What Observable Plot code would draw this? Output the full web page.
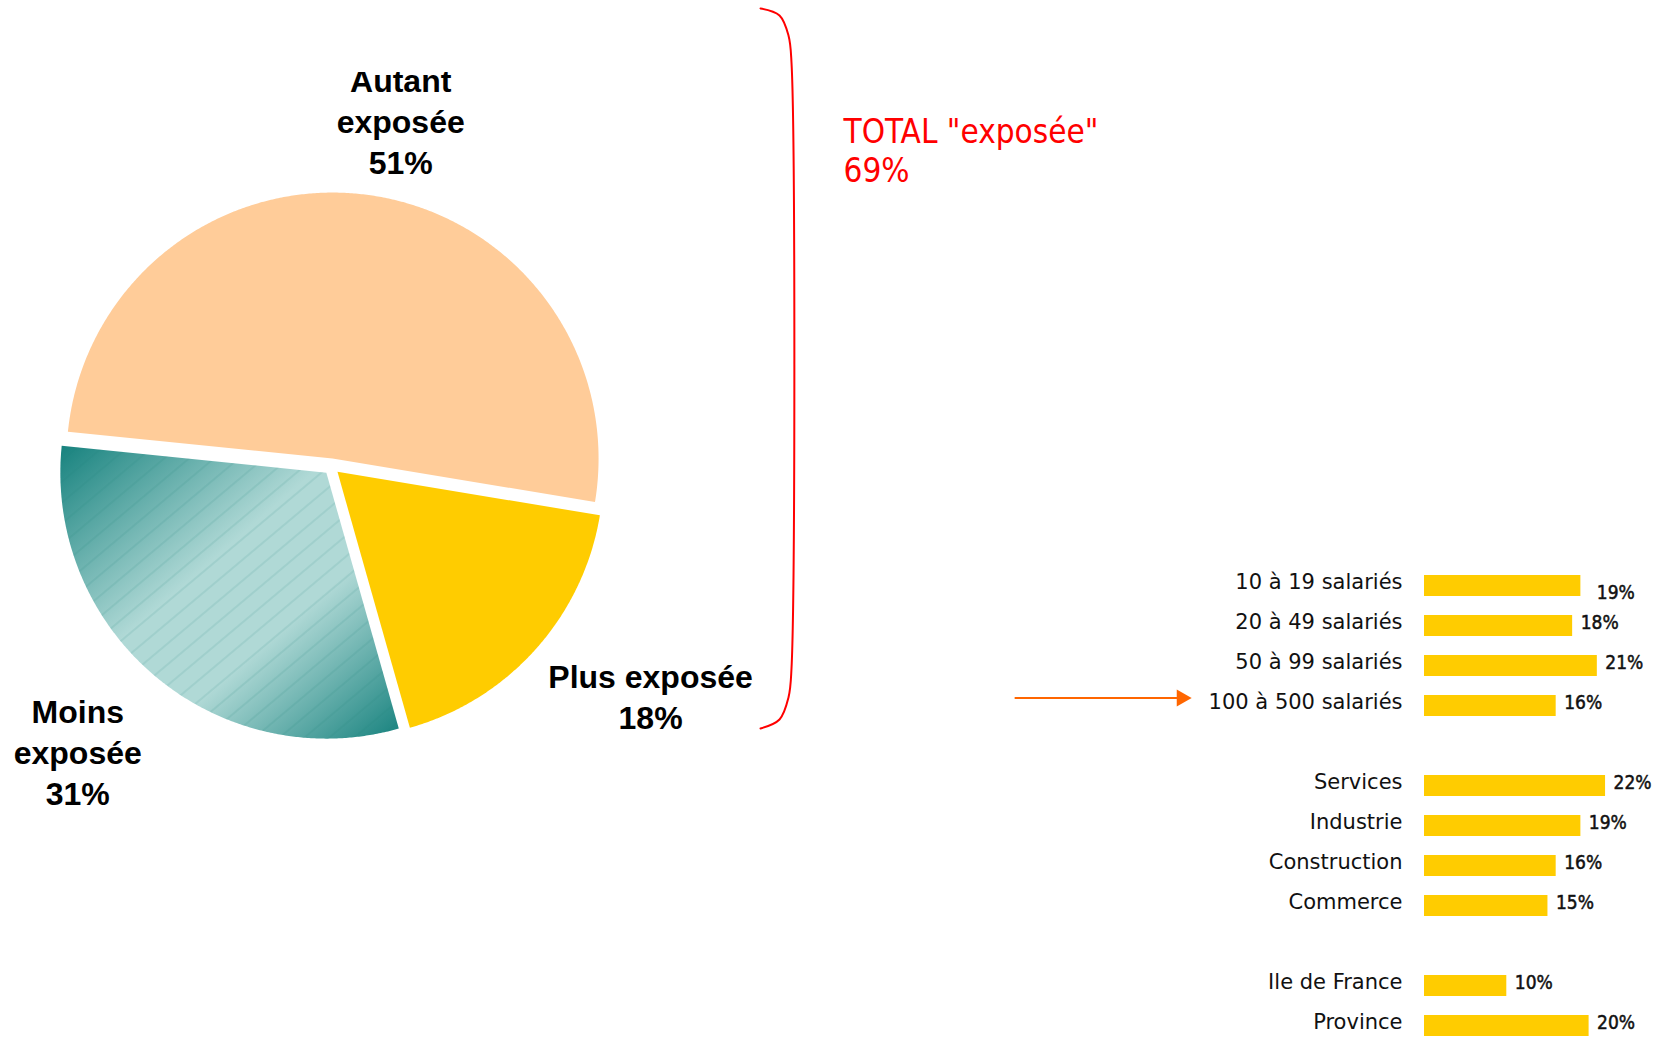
<!DOCTYPE html>
<html>
<head>
<meta charset="utf-8">
<script src="https://cdn.jsdelivr.net/npm/d3@7"></script>
<script src="https://cdn.jsdelivr.net/npm/@observablehq/plot@0.6"></script>
<style>
html,body{margin:0;padding:0;background:#fff;}
#root{position:relative;width:1671px;height:1038px;overflow:hidden;background:#fff;}
#pie{position:absolute;left:0;top:0;}
#bars{position:absolute;left:1000px;top:0;}
</style>
</head>
<body>
<div id="root"><div id="pie"></div><div id="bars"></div></div>
<script>
// ---------- data ----------
const pieLabels = ["Autant exposée", "Plus exposée", "Moins exposée"];
const pieValues = [51, 18, 31];
const pieColors = ["#FFCC99", "#FFCC00", "url(#moinsGrad)"];

const totalLabel = 'TOTAL "exposée"';
const totalValue = 69;

const sizeCategories = ["10 à 19 salariés", "20 à 49 salariés", "50 à 99 salariés", "100 à 500 salariés"];
const sizeValues = [19, 18, 21, 16];
const sectorCategories = ["Services", "Industrie", "Construction", "Commerce"];
const sectorValues = [22, 19, 16, 15];
const regionCategories = ["Ile de France", "Province"];
const regionValues = [10, 20];

// ---------- layout constants (not data) ----------
const deg = Math.PI / 180;
const startAngle = -84.2 * deg;
const explode = 8 / 266;
const pieLabelLayout = {
  "Autant exposée": {nudge: 3.7, k: 1.328, wrap: true},
  "Plus exposée": {nudge: -6.1, k: 1.477, wrap: false},
  "Moins exposée": {nudge: 1.7, k: 1.434, wrap: true}
};
// bracket annotation, in pie-radius units
const bracket = [
  [1.6128, 1.7218], [1.6842, 1.6955], [1.7180, 1.6203], [1.7293, 1.5188],
  [1.7293, -0.7594], [1.7180, -0.8684], [1.6842, -0.9511], [1.6128, -0.9850]
];
const totalPos = [1.925, 1.19];
// arrow annotation, in bar x units
const arrowRow = "100 à 500 salariés";
const arrowFrom = -49.8, arrowTo = -29.0, arrowHead = -29.5;

// ---------- pie geometry ----------
const arcs = d3.pie().sort(null).startAngle(startAngle).endAngle(startAngle + 2 * Math.PI)(pieValues);
const pieRows = [];
const pieText = [];
arcs.forEach((a, i) => {
  const name = pieLabels[i];
  const mid = (a.startAngle + a.endAngle) / 2;
  const ox = explode * Math.sin(mid), oy = explode * Math.cos(mid);
  pieRows.push({name, x: ox, y: oy});
  const n = Math.ceil((a.endAngle - a.startAngle) / (0.4 * deg));
  for (let k = 0; k <= n; k++) {
    const t = a.startAngle + (a.endAngle - a.startAngle) * k / n;
    pieRows.push({name, x: ox + Math.sin(t), y: oy + Math.cos(t)});
  }
  const L = pieLabelLayout[name];
  const la = mid + L.nudge * deg;
  pieText.push({
    name,
    x: L.k * Math.sin(la),
    y: L.k * Math.cos(la),
    text: (L.wrap ? name.replace(" ", "\n") : name) + "\n" + pieValues[i] + "%"
  });
});
const moinsRows = pieRows.filter(d => d.name === "Moins exposée");

const pieFont = "'Liberation Sans', Arial, sans-serif";
const pie = Plot.plot({
  width: 1000, height: 1038,
  marginTop: 72, marginLeft: 0, marginRight: 0, marginBottom: 0,
  x: {domain: [-1, 1], range: [65, 597], axis: null},
  y: {domain: [-1, 1], range: [732, 200], axis: null},
  color: {domain: pieLabels, range: pieColors},
  style: {background: "transparent", overflow: "visible"},
  marks: [
    Plot.line(pieRows, {x: "x", y: "y", z: "name", fill: "name", stroke: "none"}),
    Plot.line(moinsRows, {x: "x", y: "y", fill: "url(#moinsHatch)", stroke: "none"}),
    Plot.text(pieText, {x: "x", y: "y", text: "text", fontFamily: pieFont, fontWeight: "bold",
      fontSize: 32, lineHeight: 1.28, fill: "#000", clip: true}),
    Plot.line(bracket, {x: d => d[0], y: d => d[1], stroke: "#FF0000", strokeWidth: 2, curve: "catmull-rom"}),
    Plot.text([totalLabel + "\n" + totalValue + "%"], {x: totalPos[0], y: totalPos[1], text: d => d,
      textAnchor: "start", fontFamily: "'DejaVu Sans Condensed', 'DejaVu Sans', sans-serif",
      fontSize: 33, lineHeight: 1.182, fill: "#FF0000"})
  ]
});
const defs = d3.select(pie).insert("defs", ":first-child");
const grad = defs.append("linearGradient").attr("id", "moinsGrad")
  .attr("x1", 0).attr("y1", 0).attr("x2", 1).attr("y2", 1);
[[0, "#17827e"], [0.42, "#b0d9d6"], [0.64, "#b0d9d6"], [1, "#17827e"]].forEach(([o, c]) =>
  grad.append("stop").attr("offset", o).attr("stop-color", c));
const pat = defs.append("pattern").attr("id", "moinsHatch").attr("patternUnits", "userSpaceOnUse")
  .attr("width", 20).attr("height", 16).attr("patternTransform", "rotate(-40)");
pat.append("path").attr("d", "M0,8H20").attr("stroke", "#1d7a76").attr("stroke-opacity", 0.22).attr("stroke-width", 1);
document.getElementById("pie").appendChild(pie);

// ---------- bars ----------
const groups = [[sizeCategories, sizeValues], [sectorCategories, sectorValues], [regionCategories, regionValues]];
const slots = [];
const barRows = [];
groups.forEach(([cats, vals], g) => {
  if (g > 0) slots.push("gap" + g);
  cats.forEach((c, i) => { slots.push(c); barRows.push({name: c, value: vals[i]}); });
});
const barCategories = barRows.map(d => d.name);
const valueFont = "'DejaVu Sans Condensed', 'DejaVu Sans', sans-serif";

const bars = Plot.plot({
  width: 671, height: 1038,
  marginLeft: 424, marginRight: 41.25, marginTop: 0, marginBottom: 0,
  x: {domain: [0, 25], axis: null},
  y: {type: "band", domain: slots, range: [564.4, 1046.8], paddingInner: 0.48, paddingOuter: 0.24, align: 0.5, axis: null},
  style: {background: "transparent", overflow: "visible"},
  marks: [
    Plot.barX(barRows, {x: "value", y: "name", fill: "#FFCC00"}),
    Plot.axisY({ticks: barCategories, tickSize: 0, tickPadding: 22, dy: -4, fontSize: 21,
      fontFamily: "'DejaVu Sans', Verdana, sans-serif", color: "#111", label: null}),
    Plot.text(barRows.slice(1), {x: "value", y: "name", text: d => d.value + "%", dx: 8, dy: -3,
      textAnchor: "start", fontFamily: valueFont, fontSize: 19, fill: "#111", stroke: "#111", strokeWidth: 0.5}),
    Plot.text(barRows.slice(0, 1), {x: "value", y: "name", text: d => d.value + "%", dx: 16, dy: 7,
      textAnchor: "start", fontFamily: valueFont, fontSize: 19, fill: "#111", stroke: "#111", strokeWidth: 0.5}),
    Plot.link([arrowRow], {x1: arrowFrom, x2: arrowTo, y1: d => d, y2: d => d, dy: -8, stroke: "#FF6600", strokeWidth: 2}),
    Plot.dot([arrowRow], {x: arrowHead, y: d => d, dy: -8, symbol: "triangle", r: 6.4, rotate: 90, fill: "#FF6600", stroke: "none"})
  ]
});
document.getElementById("bars").appendChild(bars);
</script>
</body>
</html>
